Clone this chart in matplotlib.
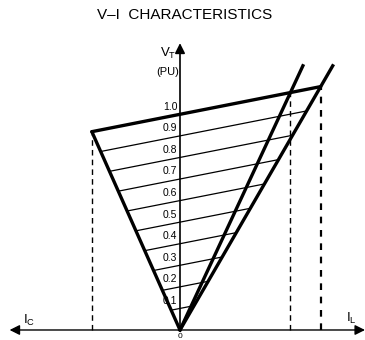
import matplotlib.pyplot as plt
import numpy as np

plt.rcParams['font.family'] = ['Liberation Sans', 'DejaVu Sans']
plt.rcParams['mathtext.fontset'] = 'custom'
plt.rcParams['mathtext.rm'] = 'Liberation Sans'
plt.rcParams['mathtext.it'] = 'Liberation Sans'

# voltage levels (PU) of the hatch lines
levels = [0.1, 0.2, 0.3, 0.4, 0.5, 0.6, 0.7, 0.8, 0.9]
top_level = 1.0
level_labels = ['0.1', '0.2', '0.3', '0.4', '0.5', '0.6', '0.7', '0.8', '0.9', '1.0']

# slopes (V per unit I)
slope_cap = 2.25      # capacitive limit line
slope_ind_in = 2.15   # inductive line (inner)
slope_ind_out = 1.73  # inductive line (outer)
slope_sl = 0.197      # slope of the control characteristic
v_top = 1.225         # where the inductive lines stop

fig = plt.figure(figsize=(3.65, 3.4), dpi=100)
ax = fig.add_axes([0, 0, 1, 1])
ax.set_xlim(-0.8345, 0.8577)
ax.set_ylim(-0.0464, 1.530)
ax.axis('off')

def left_end(v0):
    i = -v0 / (slope_cap + slope_sl)
    return i, v0 + slope_sl * i

def right_end(v0, k):
    i = v0 / (k - slope_sl)
    return i, v0 + slope_sl * i

# thin hatch lines
for L in levels:
    i1, v1 = left_end(L)
    i2, v2 = right_end(L, slope_ind_out)
    ax.plot([i1, i2], [v1, v2], color='black', lw=0.9, solid_capstyle='butt')

# 1.0 PU line (bold)
il, vl = left_end(top_level)
ir, vr = right_end(top_level, slope_ind_out)
ii, vi = right_end(top_level, slope_ind_in)
ax.plot([il, ir], [vl, vr], color='black', lw=2.4, solid_capstyle='round')

# V shaped limits
ax.plot([0, il], [0, vl], color='black', lw=2.4, solid_capstyle='round')
ax.plot([0, v_top / slope_ind_in], [0, v_top], color='black', lw=2.4)
ax.plot([0, v_top / slope_ind_out], [0, v_top], color='black', lw=2.4)

# dashed drop lines
ax.plot([il, il], [0, vl], color='black', lw=1.0, ls=(0, (4, 3)))
ax.plot([ii, ii], [0, vi], color='black', lw=1.0, ls=(0, (4, 3)))
ax.plot([ir, ir], [0, vr], color='black', lw=1.6, ls=(0, (3, 3)))

# axes
ax.annotate('', xy=(-0.79, 0), xytext=(0.0, 0),
            arrowprops=dict(arrowstyle='-|>', color='black', lw=1.0,
                            mutation_scale=15, shrinkA=0, shrinkB=0))
ax.annotate('', xy=(0.8577, 0), xytext=(0.0, 0),
            arrowprops=dict(arrowstyle='-|>', color='black', lw=1.0,
                            mutation_scale=15, shrinkA=0, shrinkB=0))
ax.annotate('', xy=(0, 1.33), xytext=(0, 0),
            arrowprops=dict(arrowstyle='-|>', color='black', lw=1.2,
                            mutation_scale=15, shrinkA=0, shrinkB=0))

# level labels
for L, lab in zip(levels + [top_level], level_labels):
    ax.text(-0.012, L + 0.035, lab, ha='right', va='center', fontsize=7.5)

ax.text(0, -0.016, '0', ha='center', va='top', fontsize=6)
ax.text(-0.055, 1.28, r'V$_\mathrm{T}$', ha='center', va='center', fontsize=9.5)
ax.text(-0.058, 1.195, '(PU)', ha='center', va='center', fontsize=8)
ax.text(-0.70, 0.045, r'I$_\mathrm{C}$', ha='center', va='center', fontsize=9.5)
ax.text(0.795, 0.055, r'I$_\mathrm{L}$', ha='center', va='center', fontsize=9.5)

fig.text(0.505, 0.957, 'V\u2013I  CHARACTERISTICS', ha='center', va='center', fontsize=11)

fig.savefig('out.png', dpi=100)
